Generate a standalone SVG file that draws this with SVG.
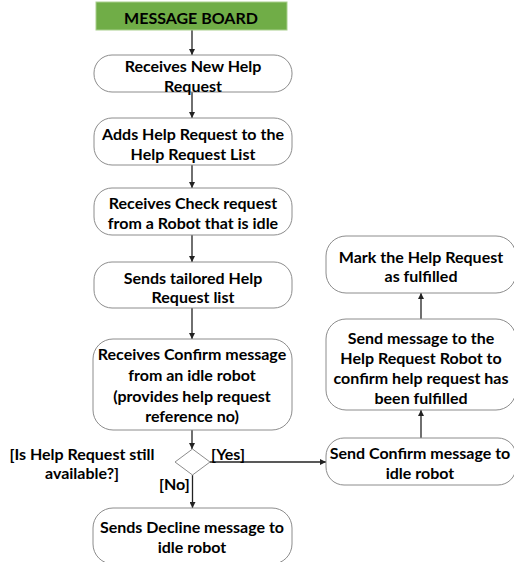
<svg xmlns="http://www.w3.org/2000/svg" width="514" height="562" viewBox="0 0 514 562">
<defs>
<style>
.box{fill:#fff;stroke:#8c8c8c;stroke-width:1}
.t{font-family:Lato,"Open Sans","Liberation Sans",sans-serif;font-weight:bold;font-size:16px;fill:#000;text-anchor:middle;dominant-baseline:central}
.l{font-family:Lato,"Open Sans","Liberation Sans",sans-serif;font-weight:bold;font-size:16px;fill:#000;dominant-baseline:central}
.c{stroke:#222;stroke-width:1.3;fill:none;marker-end:url(#ah)}
</style>
<marker id="ah" viewBox="0 0 10 10" refX="10" refY="5" markerWidth="6" markerHeight="6" markerUnits="userSpaceOnUse" orient="auto">
<path d="M0,0 L10,5 L0,10 z" fill="#222"/>
</marker>
</defs>
<rect width="514" height="562" fill="#fff"/>
<g id="connectors">
<line class="c" x1="192" y1="30" x2="192" y2="55"/>
<line class="c" x1="192" y1="92" x2="192" y2="118"/>
<line class="c" x1="192" y1="165" x2="192" y2="188"/>
<line class="c" x1="192" y1="235" x2="192" y2="262"/>
<line class="c" x1="192" y1="308" x2="192" y2="339"/>
<line class="c" x1="192" y1="430" x2="192" y2="449"/>
<line class="c" x1="210" y1="462" x2="326" y2="462"/>
<line class="c" x1="192.5" y1="475" x2="192.5" y2="508"/>
<line class="c" x1="421" y1="438" x2="421" y2="410"/>
<line class="c" x1="421" y1="319" x2="421" y2="293"/>
</g>
<g id="message-board">
<rect x="96" y="2" width="191" height="28" fill="#70ad47" stroke="#a9d08e" stroke-width="1"/>
<text class="t" x="191" y="17">MESSAGE BOARD</text>
</g>
<g id="n1">
<rect class="box" x="94" y="55" width="198" height="37" rx="18"/>
<text class="t" x="193" y="65">Receives New Help</text>
<text class="t" x="193" y="85">Request</text>
</g>
<g id="n2">
<rect class="box" x="94" y="118" width="198" height="47" rx="18"/>
<text class="t" x="193" y="133">Adds Help Request to the</text>
<text class="t" x="193" y="153">Help Request List</text>
</g>
<g id="n3">
<rect class="box" x="94" y="188" width="198" height="47" rx="18"/>
<text class="t" x="193" y="202">Receives Check request</text>
<text class="t" x="193" y="222">from a Robot that is idle</text>
</g>
<g id="n4">
<rect class="box" x="94" y="262" width="198" height="46" rx="18"/>
<text class="t" x="193" y="277">Sends tailored Help</text>
<text class="t" x="193" y="296">Request list</text>
</g>
<g id="n5">
<rect class="box" x="93" y="339" width="199" height="91" rx="20"/>
<text class="t" x="192" y="353">Receives Confirm message</text>
<text class="t" x="192" y="374">from an idle robot</text>
<text class="t" x="192" y="395">(provides help request</text>
<text class="t" x="192" y="415">reference no)</text>
</g>
<g id="decision">
<polygon points="192.5,449 210,462 192.5,475 175,462" fill="#fff" stroke="#8c8c8c" stroke-width="1"/>
<text class="t" x="82" y="453">[Is Help Request still</text>
<text class="t" x="82" y="472">available?]</text>
<text class="l" x="211" y="453">[Yes]</text>
<text class="l" x="159" y="483">[No]</text>
</g>
<g id="n6">
<rect class="box" x="93" y="508" width="199" height="56" rx="20"/>
<text class="t" x="192" y="526">Sends Decline message to</text>
<text class="t" x="192" y="546">idle robot</text>
</g>
<g id="n7">
<rect class="box" x="326" y="438" width="190" height="47" rx="18"/>
<text class="t" x="420" y="452">Send Confirm message to</text>
<text class="t" x="420" y="472">idle robot</text>
</g>
<g id="n8">
<rect class="box" x="326" y="319" width="190" height="91" rx="20"/>
<text class="t" x="421" y="337">Send message to the</text>
<text class="t" x="421" y="357">Help Request Robot to</text>
<text class="t" x="421" y="377">confirm help request has</text>
<text class="t" x="421" y="397">been fulfilled</text>
</g>
<g id="n9">
<rect class="box" x="326" y="236" width="190" height="57" rx="20"/>
<text class="t" x="421" y="256">Mark the Help Request</text>
<text class="t" x="421" y="275">as fulfilled</text>
</g>
</svg>
